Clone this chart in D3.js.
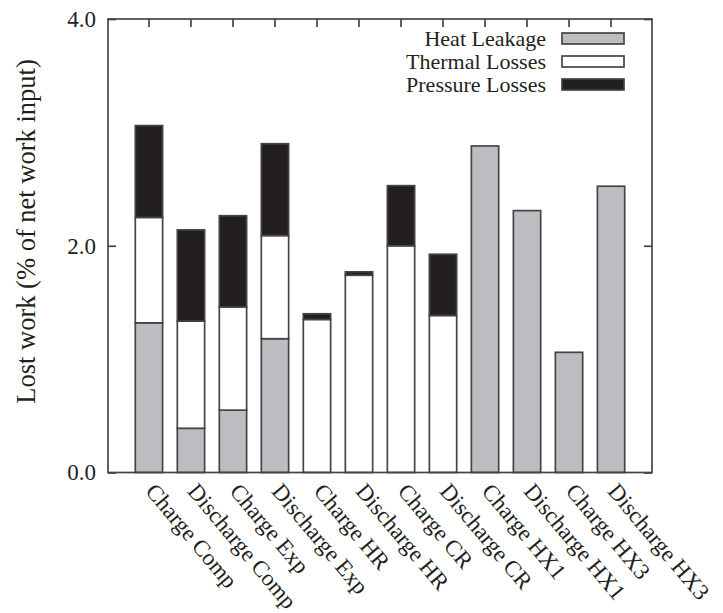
<!DOCTYPE html>
<html>
<head>
<meta charset="utf-8">
<script src="https://cdn.jsdelivr.net/npm/d3@7"></script>
<style>
  body { margin: 0; background: #fff; }
  text { font-family: "Liberation Serif", "Times New Roman", serif; fill: #231f20; }
</style>
</head>
<body>
<svg id="chart" width="723" height="613"></svg>
<script>
// components, lost work in % of net work input
const categories = ['Charge Comp', 'Discharge Comp', 'Charge Exp', 'Discharge Exp',
    'Charge HR', 'Discharge HR', 'Charge CR', 'Discharge CR',
    'Charge HX1', 'Discharge HX1', 'Charge HX3', 'Discharge HX3'];
const heatLeakage   = [1.32, 0.39, 0.55, 1.18, 0, 0, 0, 0, 2.88, 2.31, 1.06, 2.525];
const thermalLosses = [0.93, 0.945, 0.91, 0.91, 1.35, 1.74, 2.00, 1.385, 0, 0, 0, 0];
const pressureLosses = [0.81, 0.805, 0.805, 0.81, 0.05, 0.03, 0.53, 0.54, 0, 0, 0, 0];
const seriesNames = ['Heat Leakage', 'Thermal Losses', 'Pressure Losses'];
const seriesColors = ['#bcbdc1', '#ffffff', '#231f20'];
const yTicks = [0, 2, 4];

const frame = {left: 108, right: 652, top: 19, bottom: 472.5};
const edge = '#454545';

const svg = d3.select('#chart');

let rows = categories.map(function(c, i) {
    return {cat: c, heat: heatLeakage[i], thermal: thermalLosses[i], pressure: pressureLosses[i]};
});
let stack = d3.stack().keys(['heat', 'thermal', 'pressure'])(rows);

let x = d3.scaleBand()
    .domain(categories)
    .range([frame.left, frame.right])
    .paddingInner(0.35)
    .paddingOuter(0.65);
let y = d3.scaleLinear().domain([0, 4]).range([frame.bottom, frame.top]);

// bars
svg.append('g').selectAll('g')
    .data(stack)
    .enter().append('g')
    .attr('fill', (d, i) => seriesColors[i])
    .selectAll('rect')
    .data(d => d.filter(s => s[1] - s[0] > 0))
    .enter().append('rect')
    .attr('x', d => x(d.data.cat))
    .attr('width', x.bandwidth())
    .attr('y', d => y(d[1]))
    .attr('height', d => y(d[0]) - y(d[1]))
    .attr('stroke', edge)
    .attr('stroke-width', 1.7);

// axes: left with labels, right and top as mirrored ticks
let axLeft = svg.append('g')
    .attr('transform', `translate(${frame.left},0)`)
    .call(d3.axisLeft(y).tickValues(yTicks).tickFormat(d3.format('.1f')).tickSizeInner(-8).tickSizeOuter(0).tickPadding(12));
let axRight = svg.append('g')
    .attr('transform', `translate(${frame.right},0)`)
    .call(d3.axisRight(y).tickValues(yTicks).tickFormat('').tickSizeInner(-8).tickSizeOuter(0));
let axTop = svg.append('g')
    .attr('transform', `translate(0,${frame.top})`)
    .call(d3.axisTop(x).tickFormat('').tickSizeInner(-8).tickSizeOuter(0));
[axLeft, axRight, axTop].forEach(function(g) {
    g.select('.domain').remove();
    g.selectAll('line').attr('stroke', edge).attr('stroke-width', 1.7);
});
axLeft.selectAll('text')
    .style('font-family', '"Liberation Serif", serif')
    .style('font-size', '23px')
    .attr('fill', '#231f20');

svg.append('rect')
    .attr('x', frame.left).attr('y', frame.top)
    .attr('width', frame.right - frame.left)
    .attr('height', frame.bottom - frame.top)
    .attr('fill', 'none')
    .attr('stroke', edge)
    .attr('stroke-width', 1.7);

// category labels, slanted
svg.append('g').selectAll('text')
    .data(categories)
    .enter().append('text')
    .attr('transform', d => `translate(${x(d) + x.bandwidth() / 2 + 8},${frame.bottom + 9}) rotate(50)`)
    .attr('dy', '0.7em')
    .style('font-size', '23px')
    .text(d => d);

// y title
svg.append('text')
    .attr('transform', 'translate(35,231.5) rotate(-90)')
    .attr('text-anchor', 'middle')
    .style('font-size', '26.5px')
    .text('Lost work (% of net work input)');

// legend
let legend = svg.append('g').selectAll('g')
    .data(seriesNames)
    .enter().append('g')
    .attr('transform', (d, i) => `translate(0,${38.5 + i * 23})`);
legend.append('text')
    .attr('x', 546)
    .attr('dy', '0.33em')
    .attr('text-anchor', 'end')
    .style('font-size', '22px')
    .text(d => d);
legend.append('rect')
    .attr('x', 562).attr('y', -5.5)
    .attr('width', 62).attr('height', 11)
    .attr('fill', (d, i) => seriesColors[i])
    .attr('stroke', edge)
    .attr('stroke-width', 1.7);
</script>
</body>
</html>
